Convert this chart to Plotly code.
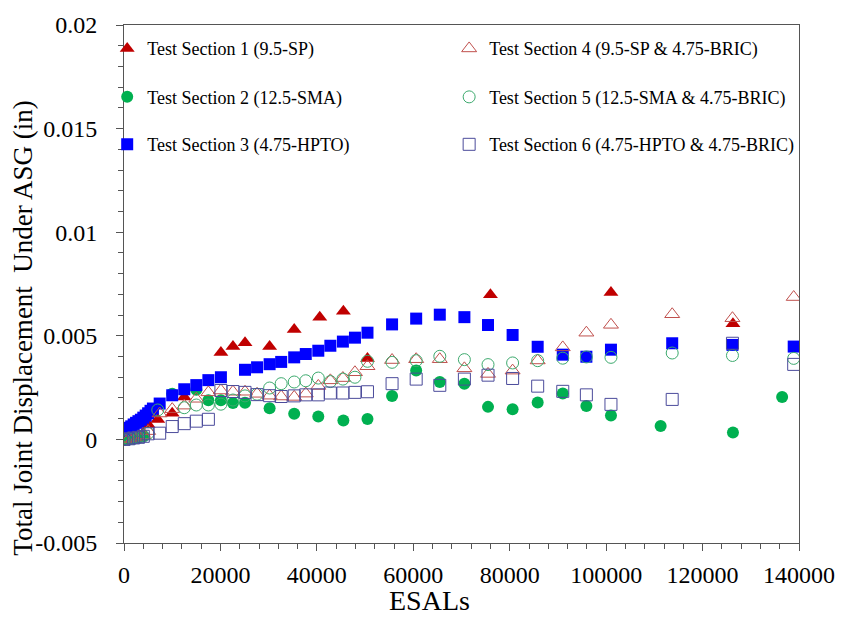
import plotly.graph_objects as go

# ---------------- data ----------------
s1_x = [0, 1000, 2000, 3000, 4000, 5000, 7000, 10000, 12500, 20100, 22600, 25100,
        30200, 35300, 40600, 45500, 50500, 76000, 101000, 126300]
s1_y = [0.00002, 0.00005, 0.0001, 0.0002, 0.0003, 0.00072, 0.00096, 0.00126, 0.00205,
        0.00420, 0.00448, 0.00467, 0.00448, 0.00531, 0.00590, 0.00619, 0.00391,
        0.00698, 0.00709, 0.00558]

s2_x = [0, 1000, 2000, 3000, 4000, 10000, 15000, 17500, 20100, 22600, 25100, 30200,
        35300, 40300, 45500, 50500, 55600, 60600, 65500, 70600, 75500, 80600, 85800,
        91000, 95900, 101000, 111300, 126300, 136500]
s2_y = [0.0, 0.00003, 0.00006, 0.0001, 0.00015, 0.0022, 0.0024, 0.00189, 0.00189,
        0.00176, 0.00177, 0.00150, 0.00124, 0.00110, 0.00091, 0.00099, 0.00210,
        0.00332, 0.00277, 0.00269, 0.00157, 0.00146, 0.00178, 0.00221, 0.00161,
        0.00115, 0.00065, 0.00033, 0.00205]

s3_x = [0, 500, 1000, 1500, 2000, 2500, 3000, 3500, 4000, 4500, 5000, 5500, 6000,
        7400, 10000, 12500, 15000, 17500, 20100, 25100, 27600, 30200, 32600, 35300,
        37700, 40300, 42800, 45400, 47900, 50500, 55600, 60600, 65500, 70600, 75500,
        80600, 85800, 91000, 95900, 101000, 113700, 126200, 138900]
s3_y = [0.00043, 0.0005, 0.00056, 0.00063, 0.00072, 0.0008, 0.00088, 0.00095, 0.00105,
        0.00115, 0.00126, 0.00138, 0.00149, 0.00173, 0.00213, 0.00242, 0.00262,
        0.00286, 0.00300, 0.00336, 0.00348, 0.00363, 0.00374, 0.00396, 0.00412,
        0.00428, 0.00452, 0.00472, 0.00491, 0.00515, 0.00555, 0.00583, 0.00602,
        0.00590, 0.00552, 0.00504, 0.00447, 0.00409, 0.00399, 0.00433, 0.00464,
        0.00456, 0.00448]

s4_x = [0, 1000, 2000, 3000, 4000, 5000, 7400, 10000, 12500, 15000, 17500, 20100,
        22600, 25100, 27600, 30200, 32600, 35300, 37700, 40300, 42800, 45400, 47900,
        50500, 55600, 60600, 65500, 70600, 75500, 80600, 85800, 91000, 95900, 101000,
        113700, 126200, 138900]
s4_y = [0.0, 0.00004, 0.00008, 0.00013, 0.0002, 0.0004, 0.00125, 0.00146, 0.00163,
        0.00196, 0.00227, 0.00236, 0.00230, 0.00230, 0.00220, 0.00211, 0.00207,
        0.00205, 0.00221, 0.00258, 0.00285, 0.00296, 0.00324, 0.00353, 0.00383,
        0.00387, 0.00387, 0.00343, 0.00316, 0.00332, 0.00381, 0.00444, 0.00515,
        0.00553, 0.00604, 0.00585, 0.00687]

s5_x = [0, 1000, 2000, 3000, 4000, 5000, 7000, 12500, 15000, 17500, 20100, 22600,
        25100, 27600, 30200, 32600, 35300, 37700, 40300, 42800, 45400, 47900, 50500,
        55600, 60600, 65500, 70600, 75500, 80600, 85800, 91000, 95900, 101000,
        113700, 126200, 138900]
s5_y = [0.0, 0.00002, 0.00005, 0.0001, 0.00016, 0.0003, 0.00142, 0.00153, 0.00166,
        0.00166, 0.00170, 0.00190, 0.00210, 0.00218, 0.00248, 0.00269, 0.00277,
        0.00283, 0.00296, 0.00279, 0.00291, 0.00300, 0.00377, 0.00372, 0.00380,
        0.00401, 0.00385, 0.00361, 0.00369, 0.00380, 0.00392, 0.00398, 0.00396,
        0.00417, 0.00405, 0.00391]

s6_x = [0, 1000, 2000, 3000, 4000, 5000, 7400, 10000, 12500, 15000, 17500, 20100,
        22600, 25100, 27600, 30200, 32600, 35300, 37700, 40300, 42800, 45400, 47900,
        50500, 55600, 60600, 65500, 70600, 75500, 80600, 85800, 91000, 95900, 101000,
        113700, 126200, 138900]
s6_y = [0.0, 0.00003, 0.00007, 0.0001, 0.00015, 0.00027, 0.00030, 0.00062, 0.00076,
        0.00088, 0.00097, 0.00236, 0.00231, 0.00227, 0.00216, 0.00211, 0.00207,
        0.00210, 0.00215, 0.00215, 0.00224, 0.00224, 0.00227, 0.00230, 0.00269,
        0.00291, 0.00261, 0.00291, 0.00310, 0.00294, 0.00257, 0.00232, 0.00215,
        0.00169, 0.00193, 0.00464, 0.00362]

names = ["Test Section 1 (9.5-SP)", "Test Section 2 (12.5-SMA)",
         "Test Section 3 (4.75-HPTO)", "Test Section 4 (9.5-SP & 4.75-BRIC)",
         "Test Section 5 (12.5-SMA & 4.75-BRIC)", "Test Section 6 (4.75-HPTO & 4.75-BRIC)"]

x_tick_vals = [0, 20000, 40000, 60000, 80000, 100000, 120000, 140000]
x_tick_text = ["0", "20000", "40000", "60000", "80000", "100000", "120000", "140000"]
y_tick_vals = [-0.005, 0, 0.005, 0.01, 0.015, 0.02]
y_tick_text = ["-0.005", "0", "0.005", "0.01", "0.015", "0.02"]

x_title = "ESALs"
y_title = "Total Joint Displacement  Under ASG (in)"

# ---------------- styling ----------------
FONT = "Liberation Serif"
AX = "#555555"
W, H = 847, 620
ML, MR, MT, MB = 124, 40, 19, 77
PW, PH = W - ML - MR, H - MT - MB


def px2x(px):
    return (px - ML) / PW


def py2y(py):
    return (H - MB - py) / PH


series = [
    (s1_x, s1_y, names[0], dict(symbol="triangle-up", size=13, color="#C00000"), "legend"),
    (s2_x, s2_y, names[1], dict(symbol="circle", size=12, color="#00B050"), "legend2"),
    (s3_x, s3_y, names[2], dict(symbol="square", size=12, color="#0000FF"), "legend3"),
    (s4_x, s4_y, names[3], dict(symbol="triangle-up-open", size=13, color="#C0504D",
                                line=dict(width=1, color="#C0504D")), "legend4"),
    (s5_x, s5_y, names[4], dict(symbol="circle-open", size=12, color="#3DAA6E",
                                line=dict(width=1, color="#3DAA6E")), "legend5"),
    (s6_x, s6_y, names[5], dict(symbol="square-open", size=12, color="#4B4B9B",
                                line=dict(width=1, color="#4B4B9B")), "legend6"),
]

fig = go.Figure()
for xs, ys, nm, mk, lg in series:
    fig.add_trace(go.Scatter(x=xs, y=ys, mode="markers", name=nm, marker=mk,
                             legend=lg, showlegend=True))

col_px = [107, 453]
row_py = [43, 92, 140]
legend_pos = {
    "legend": (col_px[0], row_py[0]),
    "legend2": (col_px[0], row_py[1]),
    "legend3": (col_px[0], row_py[2]),
    "legend4": (col_px[1], row_py[0]),
    "legend5": (col_px[1], row_py[1]),
    "legend6": (col_px[1], row_py[2]),
}
legend_layout = {}
for key, (lx, ly) in legend_pos.items():
    legend_layout[key] = dict(x=px2x(lx), y=py2y(ly), xanchor="left", yanchor="middle",
                              bgcolor="rgba(0,0,0,0)", borderwidth=0,
                              font=dict(family=FONT, size=18, color="black"))

fig.update_layout(
    width=W, height=H,
    margin=dict(l=ML, r=MR, t=MT, b=MB, pad=0),
    paper_bgcolor="white", plot_bgcolor="white",
    font=dict(family=FONT, color="black"),
    annotations=[
        dict(text=x_title, xref="paper", yref="paper", x=px2x(433), y=py2y(601),
             xanchor="center", yanchor="middle", showarrow=False,
             font=dict(family=FONT, size=28, color="black")),
        dict(text=y_title, xref="paper", yref="paper", x=px2x(22), y=py2y(325),
             xanchor="center", yanchor="middle", showarrow=False, textangle=-90,
             font=dict(family=FONT, size=27, color="black")),
    ],
    **legend_layout,
)

fig.update_xaxes(
    range=[0, 140000], tickvals=x_tick_vals, ticktext=x_tick_text,
    showgrid=False, zeroline=False, showline=True, linecolor=AX, linewidth=1,
    mirror=True, ticks="outside", ticklen=7, tickcolor=AX, tickwidth=1,
    tickfont=dict(family=FONT, size=24, color="black"), ticklabelstandoff=3,
    minor=dict(dtick=4000, ticks="outside", ticklen=5, tickcolor=AX, showgrid=False),
)
fig.update_yaxes(
    range=[-0.005, 0.02], tickvals=y_tick_vals, ticktext=y_tick_text,
    showgrid=False, zeroline=False, showline=True, linecolor=AX, linewidth=1,
    mirror=True, ticks="outside", ticklen=7, tickcolor=AX, tickwidth=1,
    tickfont=dict(family=FONT, size=24, color="black"), ticklabelstandoff=14,
    minor=dict(dtick=0.001, ticks="outside", ticklen=5, tickcolor=AX, showgrid=False),
)

fig.write_html("out.html")
